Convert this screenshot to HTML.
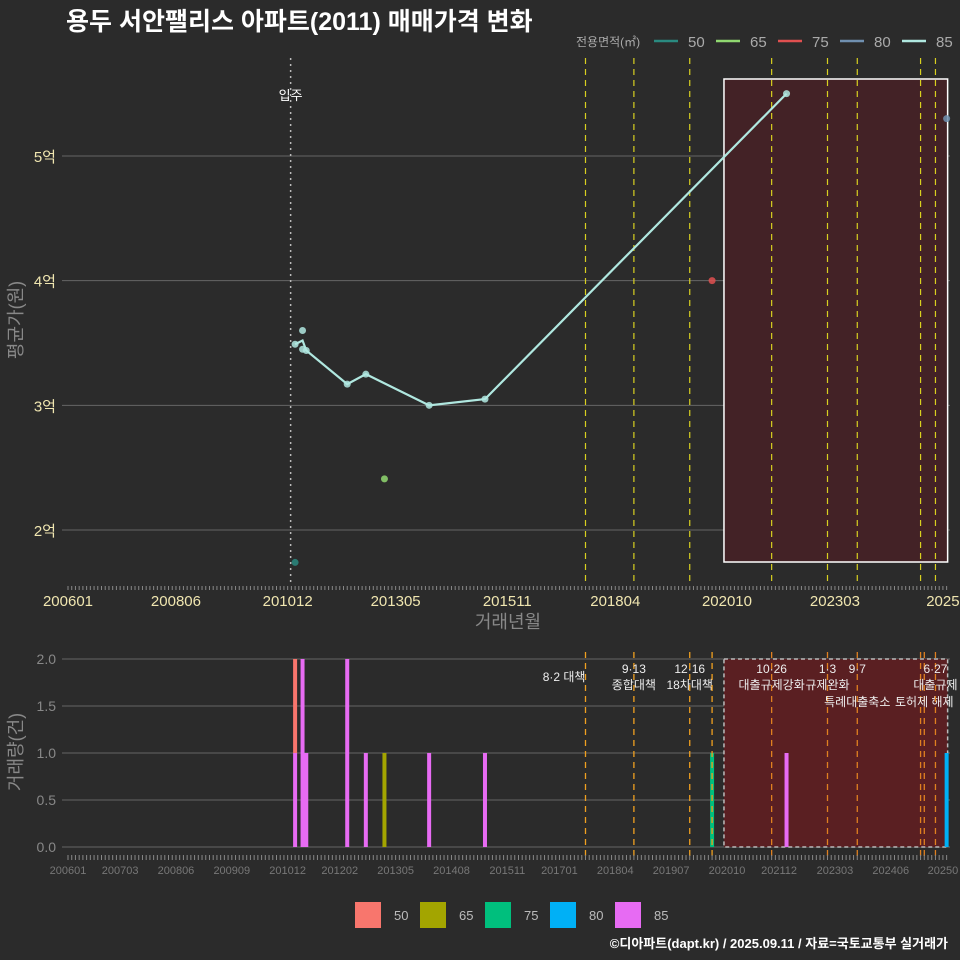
<!DOCTYPE html>
<html><head><meta charset="utf-8"><style>
body{margin:0;background:#2b2b2b}
svg{display:block;font-family:"Liberation Sans","Noto Sans CJK KR",sans-serif}
</style></head><body>
<svg id="c" width="960" height="960" viewBox="0 0 960 960">
<rect width="960" height="960" fill="#2b2b2b"/>
<text x="66" y="30" fill="#fff" font-size="25" font-weight="bold">용두 서안팰리스 아파트(2011) 매매가격 변화</text>
<g id="topPanel"></g><g id="botPanel"></g>
<text x="948" y="948" text-anchor="end" fill="#fff" font-size="13" font-weight="bold">©디아파트(dapt.kr) / 2025.09.11 / 자료=국토교통부 실거래가</text>
</svg>
<script>
// data (month index: 0 = 2006-01)
const sizes=['50','65','75','80','85'];
const topColors=['#2a8a80','#90d870','#e05050','#7090b0','#b0e8e0'];
const barColors=['#F8766D','#A3A500','#00BF7D','#00B0F6','#E76BF3'];
const ptSeries=[0,4,4,4,4,4,4,4,1,4,4,2,3];
const ptMonth=[61,61,63,63,64,75,80,97,85,112,193,173,236];
const ptValue=[1.74,3.49,3.6,3.45,3.44,3.17,3.25,3.0,2.41,3.05,5.5,4.0,5.3];
const lineMonth=[61,63,64,75,80,97,112,193];
const lineValue=[3.49,3.52,3.44,3.17,3.25,3.0,3.05,5.5];
const barMonth=[61,61,63,64,75,80,85,97,112,173,193,236];
const barSeries=[4,0,4,4,4,4,1,4,4,2,4,3];
const barCount=[1,1,2,1,2,1,1,1,1,1,1,1];
const topTicks=[2,3,4,5];
const botTicks=[0,0.5,1.0,1.5,2.0];
const topXLabels=['200601','200806','201012','201305','201511','201804','202010','202303','2025'];
const topXMonths=[0,29,59,88,118,147,177,206,235];
const botXLabels=['200601','200703','200806','200909','201012','201202','201305','201408','201511','201701','201804','201907','202010','202112','202303','202406','20250'];
const botXMonths=[0,14,29,44,59,73,88,103,118,132,147,162,177,191,206,221,235];
const policyMonths=[139,152,167,173,189,204,212,229,230,233];
const topPolicyMonths=[139,152,167,189,204,212,229,233];
const policyLabels=[['8·2 대책',''],['9·13','종합대책'],['12·16','18차대책'],['',''],['10·26','대출규제강화'],['1·3','규제완화'],['9·7','특례대출축소'],['',''],['','토허제 해제'],['6·27','대출규제']];
const moveInMonth=59.8;
const hlStart=177, hlEnd=236;

const NS='http://www.w3.org/2000/svg';
const X=m=>68+3.723*m;
const YT=v=>530-(v-2)*124.67;
const YB=v=>847-v*94;
function el(p,t,a){const e=document.createElementNS(NS,t);for(const k in a)e.setAttribute(k,a[k]);p.appendChild(e);return e;}
const topG=document.getElementById('topPanel'), botG=document.getElementById('botPanel');

// top panel
topTicks.forEach(v=>{
 const l=el(topG,'line',{x1:62,x2:950,y1:YT(v),y2:YT(v),stroke:'#666','stroke-width':1});
 
 
 const t=el(topG,'text',{x:56,y:YT(v)+6,'text-anchor':'end',fill:'#f0e6b0','font-size':15});t.textContent=v+'억';
 
 
});
const hr=el(topG,'rect',{x:X(hlStart)-3,y:79,width:X(hlEnd)-X(hlStart)+4,height:483,fill:'#432226',stroke:'#fff','stroke-width':1.5});


topPolicyMonths.forEach(m=>{
 const l=el(topG,'line',{x1:X(m),x2:X(m),y1:58,y2:585,stroke:'#d8d020','stroke-width':1.2,'stroke-dasharray':'6,5'});
 
 
});
const mv=el(topG,'line',{x1:X(moveInMonth),x2:X(moveInMonth),y1:58,y2:585,stroke:'#bbb','stroke-width':1.5,'stroke-dasharray':'2,4'});


const mvt=el(topG,'text',{x:X(moveInMonth),y:100,'text-anchor':'middle',fill:'#fff','font-size':13});mvt.textContent='입주';


const pl=el(topG,'polyline',{points:lineMonth.map((m,i)=>X(m)+','+YT(lineValue[i])).join(' '),fill:'none',stroke:topColors[4],'stroke-width':2.2});


ptMonth.forEach((m,i)=>{
 const c=el(topG,'circle',{cx:X(m),cy:YT(ptValue[i]),r:3.5,fill:topColors[ptSeries[i]],opacity:0.85});
 
 
});
for(let m=0;m<=236;m++){el(topG,'line',{x1:X(m),x2:X(m),y1:586,y2:590,stroke:'#888','stroke-width':1});}
topXLabels.forEach((s,i)=>{
 const t=el(topG,'text',{x:X(topXMonths[i]),y:606,'text-anchor':'middle',fill:'#f0e6b0','font-size':15});t.textContent=s;
 
 
});
let tx=el(topG,'text',{x:508,y:628,'text-anchor':'middle',fill:'#888','font-size':18});tx.textContent='거래년월';


tx=el(topG,'text',{x:22,y:320,'text-anchor':'middle',fill:'#888','font-size':18,transform:'rotate(-90 22 320)'});tx.textContent='평균가(원)';


tx=el(topG,'text',{x:576,y:46,fill:'#aaa','font-size':12});tx.textContent='전용면적(㎡)';


sizes.forEach((s,i)=>{
 const x0=654+i*62;
 const l=el(topG,'line',{x1:x0,x2:x0+24,y1:41,y2:41,stroke:topColors[i],'stroke-width':2.5});
 
 
 const tt=el(topG,'text',{x:x0+34,y:47,fill:'#aaa','font-size':15});tt.textContent=s;
 
 
});

// bottom panel
botTicks.forEach(v=>{
 const l=el(botG,'line',{x1:62,x2:950,y1:YB(v),y2:YB(v),stroke:'#666','stroke-width':1});
 
 
 const tt=el(botG,'text',{x:56,y:YB(v)+5,'text-anchor':'end',fill:'#888','font-size':14});tt.textContent=v.toFixed(1);
 
 
});
const br=el(botG,'rect',{x:X(hlStart)-3,y:659,width:X(hlEnd)-X(hlStart)+4,height:188,fill:'#5a1f22',stroke:'#bbb','stroke-width':1.5,'stroke-dasharray':'4,3'});


const stack={};
barMonth.forEach((m,i)=>{
 const b=stack[m]||0;
 const r=el(botG,'rect',{x:X(m)-2,y:YB(b+barCount[i]),width:4,height:barCount[i]*94,fill:barColors[barSeries[i]]});
 
 
 stack[m]=b+barCount[i];
});
policyMonths.forEach((m,i)=>{
 const l=el(botG,'line',{x1:X(m),x2:X(m),y1:652,y2:856,stroke:m>=hlStart?'#e08020':'#f0a020','stroke-width':1.3,'stroke-dasharray':'6,5'});
 
 
 const a=policyLabels[i][0], b=policyLabels[i][1];
 const dy=(i===6||i===8)?706:689;
 if(a){const tt=el(botG,'text',{x:X(m),y:i===0?681:673,'text-anchor':i===0?'end':'middle',fill:'#eee','font-size':12});tt.textContent=a;
  
  }
 if(b){const tt=el(botG,'text',{x:X(m),y:dy,'text-anchor':'middle',fill:'#eee','font-size':12});tt.textContent=b;
  
  }
});
for(let m=0;m<=236;m++){el(botG,'line',{x1:X(m),x2:X(m),y1:855,y2:860,stroke:'#888','stroke-width':1});}
botXLabels.forEach((s,i)=>{
 const tt=el(botG,'text',{x:X(botXMonths[i]),y:874,'text-anchor':'middle',fill:'#777','font-size':11});tt.textContent=s;
 
 
});
tx=el(botG,'text',{x:22,y:752,'text-anchor':'middle',fill:'#888','font-size':18,transform:'rotate(-90 22 752)'});tx.textContent='거래량(건)';


sizes.forEach((s,i)=>{
 const x0=355+i*65;
 const r=el(botG,'rect',{x:x0,y:902,width:26,height:26,fill:barColors[i]});
 
 
 const tt=el(botG,'text',{x:x0+39,y:920,fill:'#bbb','font-size':13});tt.textContent=s;
 
 
});
</script>
</body></html>
